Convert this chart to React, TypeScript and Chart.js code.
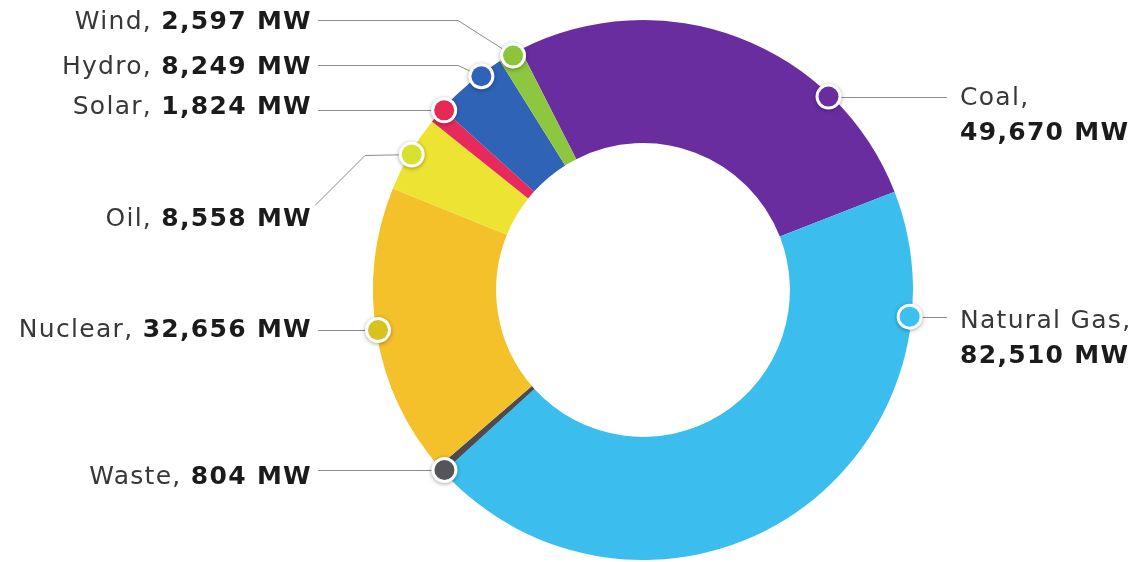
import React, { useEffect, useRef } from "react";
import { Chart, registerables } from "chart.js";

Chart.register(...registerables);

// ---- data ----
const categories = ["Coal", "Natural Gas", "Waste", "Nuclear", "Oil", "Solar", "Hydro", "Wind"];
const capacityMW = [49670, 82510, 804, 32656, 8558, 1824, 8249, 2597];
const unit = "MW";

// ---- styles ----
const segmentColors = ["#6A2D9F", "#3BBEEE", "#4B4B52", "#F5C12A", "#ECE332", "#E8295B", "#2F63B6", "#8DC63F"];
const dotColors = ["#6A2D9F", "#3CC0EE", "#555559", "#D6C31E", "#D9E130", "#E42A55", "#3062B9", "#8CC43C"];

// ---- label layout (positions of annotation text & leader lines) ----
type Layout = {
  side: "left" | "right";
  tx: number;
  ty: number;
  ty2?: number;
  lineX: number;
  lineY: number;
  frac: number;
  elbow?: "h" | "d" | "flat";
  elbowX?: number;
};
const labelLayout: Layout[] = [
  { side: "right", tx: 960, ty: 105, ty2: 140, lineX: 947, lineY: 95, frac: 0.74, elbow: "flat" },
  { side: "right", tx: 960, ty: 328, ty2: 363, lineX: 947, lineY: 318, frac: 0.17, elbow: "flat" },
  { side: "left", tx: 312, ty: 484, lineX: 318, lineY: 472, frac: 0.1, elbow: "flat" },
  { side: "left", tx: 312, ty: 337, lineX: 318, lineY: 329, frac: 0.512, elbow: "flat" },
  { side: "left", tx: 312, ty: 226, lineX: 315, lineY: 205, frac: 0.5, elbow: "d", elbowX: 365 },
  { side: "left", tx: 312, ty: 114, lineX: 318, lineY: 105, frac: 1.0, elbow: "flat" },
  { side: "left", tx: 312, ty: 74, lineX: 318, lineY: 65, frac: 0.68, elbow: "h", elbowX: 458 },
  { side: "left", tx: 312, ty: 29, lineX: 318, lineY: 20, frac: 0.6, elbow: "h", elbowX: 458 },
];

const FONT_FAMILY = "'DejaVu Sans', 'Open Sans', sans-serif";
const NAME_FONT = `400 25px ${FONT_FAMILY}`;
const VALUE_FONT = `700 25px ${FONT_FAMILY}`;
const LETTER_SPACING = "1.3px";

const fmt = (v: number) => v.toLocaleString("en-US") + " " + unit;

export default function App() {
  const ref = useRef<HTMLCanvasElement>(null);

  useEffect(() => {
    if (!ref.current) return;

    const leaderLabels = {
      id: "leaderLabels",
      afterDatasetsDraw(chart: any) {
        const ctx: any = chart.ctx;
        const meta = chart.getDatasetMeta(0);
        const dots = meta.data.map((arc: any, i: number) => {
          const p = arc.getProps(["x", "y", "startAngle", "endAngle", "outerRadius"], true);
          const L = labelLayout[i];
          const a = p.startAngle + L.frac * (p.endAngle - p.startAngle);
          const r = p.outerRadius - 2;
          return { x: p.x + Math.cos(a) * r, y: p.y + Math.sin(a) * r };
        });

        // leader lines
        ctx.save();
        ctx.strokeStyle = "#8c8c8c";
        ctx.lineWidth = 1;
        dots.forEach((d: any, i: number) => {
          const L = labelLayout[i];
          ctx.beginPath();
          if (L.elbow === "flat") {
            ctx.moveTo(L.lineX, Math.round(d.y) + 0.5);
            ctx.lineTo(d.x, Math.round(d.y) + 0.5);
          } else {
            ctx.moveTo(L.lineX, L.lineY + 0.5);
            if (L.elbow === "h" && L.elbowX !== undefined) ctx.lineTo(L.elbowX, L.lineY + 0.5);
            if (L.elbow === "d" && L.elbowX !== undefined) ctx.lineTo(L.elbowX, Math.round(d.y) + 0.5);
            ctx.lineTo(d.x, d.y);
          }
          ctx.stroke();
        });
        ctx.restore();

        // dots
        dots.forEach((d: any, i: number) => {
          ctx.save();
          ctx.shadowColor = "rgba(0,0,0,0.35)";
          ctx.shadowBlur = 4;
          ctx.shadowOffsetY = 1;
          ctx.beginPath();
          ctx.arc(d.x, d.y, 13, 0, Math.PI * 2);
          ctx.fillStyle = "#ffffff";
          ctx.fill();
          ctx.restore();
          ctx.beginPath();
          ctx.arc(d.x, d.y, 10, 0, Math.PI * 2);
          ctx.fillStyle = dotColors[i];
          ctx.fill();
        });

        // texts
        ctx.save();
        ctx.textBaseline = "alphabetic";
        try { ctx.letterSpacing = LETTER_SPACING; } catch (e) {}
        categories.forEach((name, i) => {
          const L = labelLayout[i];
          const val = fmt(capacityMW[i]);
          if (L.side === "left") {
            ctx.font = VALUE_FONT;
            const vw = ctx.measureText(val).width;
            ctx.textAlign = "right";
            ctx.fillStyle = "#1b1b1b";
            ctx.fillText(val, L.tx, L.ty);
            ctx.font = NAME_FONT;
            ctx.fillStyle = "#383838";
            ctx.fillText(name + ", ", L.tx - vw, L.ty);
          } else {
            ctx.textAlign = "left";
            ctx.font = NAME_FONT;
            ctx.fillStyle = "#383838";
            ctx.fillText(name + ",", L.tx, L.ty);
            ctx.font = VALUE_FONT;
            ctx.fillStyle = "#1b1b1b";
            ctx.fillText(val, L.tx, L.ty2 ?? L.ty + 35);
          }
        });
        ctx.restore();
      },
    };

    const chart = new Chart(ref.current, {
      type: "doughnut",
      data: {
        labels: categories,
        datasets: [
          {
            data: capacityMW,
            backgroundColor: segmentColors,
            borderWidth: 0,
            hoverOffset: 0,
          },
        ],
      },
      options: {
        responsive: false,
        maintainAspectRatio: false,
        animation: false,
        cutout: "54.4%",
        rotation: -27,
        layout: { padding: { left: 373, right: 227, top: 20, bottom: 2 } },
        plugins: {
          legend: { display: false },
          tooltip: { enabled: false },
        },
      },
      plugins: [leaderLabels],
    });

    return () => chart.destroy();
  }, []);

  return (
    <div style={{ position: "fixed", left: 0, top: 0, width: 1140, height: 562, background: "#ffffff" }}>
      <canvas ref={ref} width={1140} height={562} style={{ display: "block" }} />
    </div>
  );
}
